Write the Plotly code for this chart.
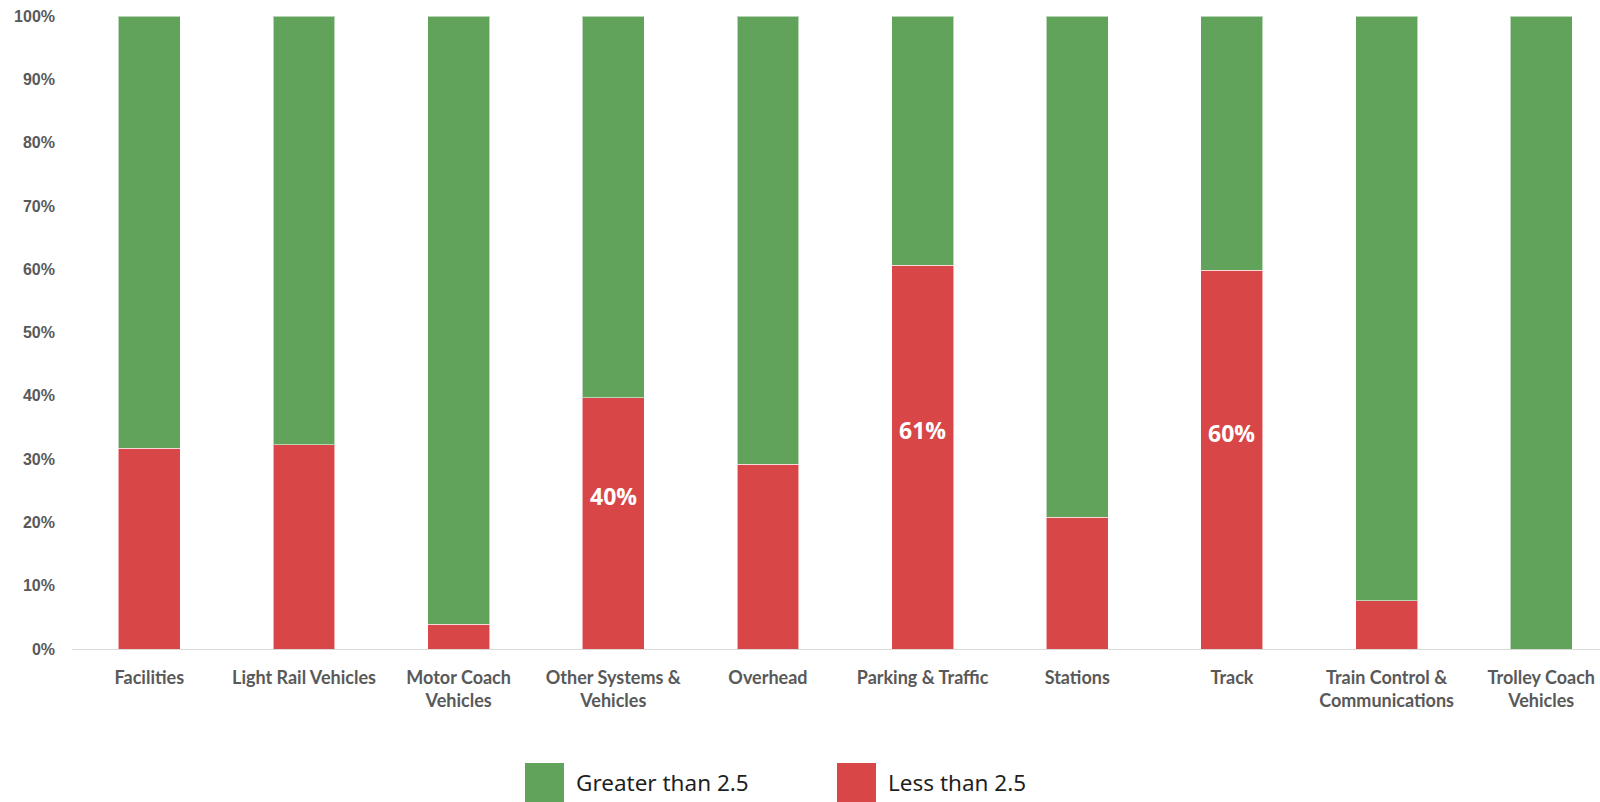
import plotly.graph_objects as go

categories = ["Facilities", "Light Rail Vehicles", "Motor Coach<br>Vehicles",
              "Other Systems &<br>Vehicles", "Overhead", "Parking & Traffic",
              "Stations", "Track", "Train Control &<br>Communications",
              "Trolley Coach<br>Vehicles"]
less_than = [31.7, 32.3, 3.9, 39.7, 29.2, 60.6, 20.8, 59.8, 7.6, 0.0]
greater_than = [round(100 - v, 1) for v in less_than]
bar_labels = ["", "", "", "40%", "", "61%", "", "60%", "", ""]
series_names = ["Greater than 2.5", "Less than 2.5"]
GREEN = "#62A35B"
RED = "#D84647"

FIG_W, FIG_H = 1600, 802
M_L, M_R, M_T, M_B = 72, 0, 16, 153
W_PLOT = FIG_W - M_L - M_R
H_PLOT = FIG_H - M_T - M_B


def px_x(xpage):
    return (xpage - M_L) / W_PLOT


def px_y(ypage):
    return (FIG_H - M_B - ypage) / H_PLOT


fig = go.Figure()
fig.add_trace(go.Bar(x=categories, y=less_than, name=series_names[1],
                     marker=dict(color=RED, line=dict(color="rgba(255,255,255,0.55)", width=1)),
                     showlegend=False, hoverinfo="skip"))
fig.add_trace(go.Bar(x=categories, y=greater_than, name=series_names[0],
                     marker=dict(color=GREEN, line=dict(color="rgba(255,255,255,0.55)", width=1)),
                     showlegend=False, hoverinfo="skip"))

for c, v, lab in zip(categories, less_than, bar_labels):
    if lab:
        fig.add_annotation(x=c, y=v / 2, text=lab, showarrow=False, yshift=27,
                           font=dict(family="Open Sans", size=23, color="white", weight="bold"))

# manual legend (big square swatches)
legend_items = [(series_names[0], GREEN, 525), (series_names[1], RED, 837)]
for name, col, xpx in legend_items:
    fig.add_shape(type="rect", xref="paper", yref="paper",
                  x0=px_x(xpx), x1=px_x(xpx + 39), y0=px_y(805), y1=px_y(763),
                  fillcolor=col, line=dict(width=0))
    fig.add_annotation(xref="paper", yref="paper", x=px_x(xpx + 49),
                       y=px_y(782), text=name, showarrow=False,
                       xanchor="left", yanchor="middle",
                       font=dict(family="Noto Sans", size=22.5, color="#1f1f1f"))

fig.update_layout(
    barmode="stack",
    bargap=0.6,
    width=FIG_W, height=FIG_H,
    margin=dict(l=M_L, r=M_R, t=M_T, b=M_B),
    plot_bgcolor="white", paper_bgcolor="white",
    showlegend=False,
    hovermode=False,
    xaxis=dict(range=[-0.5, 9.38], showgrid=False, showline=True, linecolor="#d9d9d9",
               linewidth=1, ticks="", ticklabelstandoff=12, fixedrange=True,
               tickfont=dict(family="Lato", size=18, color="#595959", weight="bold")),
    yaxis=dict(range=[0, 100], dtick=10, ticksuffix="%", showgrid=False, zeroline=False,
               showline=False, ticks="", ticklabelstandoff=16, ticklabeloverflow="allow",
               fixedrange=True,
               tickfont=dict(family="Liberation Sans", size=16, color="#595959", weight="bold")),
)

fig.write_html("out.html", config={"displayModeBar": False},
               post_script="document.body.style.margin='0';document.body.style.overflow='hidden';")
